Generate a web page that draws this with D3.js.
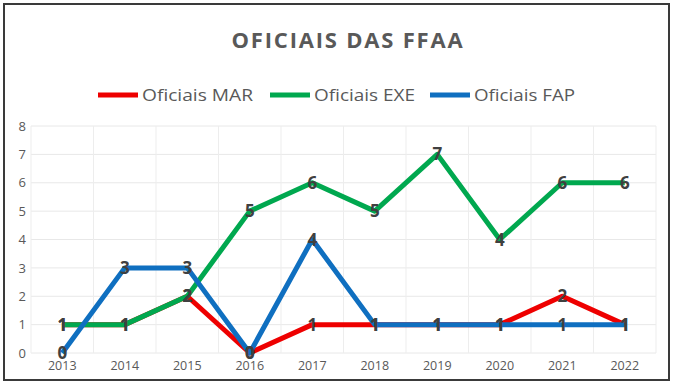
<!DOCTYPE html>
<html lang="pt-BR">
<head>
<meta charset="UTF-8">
<script src="https://d3js.org/d3.v7.min.js"></script>
<style>
  body { margin: 0; background: #fff; }
  svg { display: block; font-family: 'Open Sans', 'Liberation Sans', sans-serif; }
</style>
</head>
<body>
<div id="chart"></div>
<script>
// dados do grafico
const anos = ["2013", "2014", "2015", "2016", "2017", "2018", "2019", "2020", "2021", "2022"];
const oficiaisMAR = [1, 1, 2, 0, 1, 1, 1, 1, 2, 1];
const oficiaisEXE = [1, 1, 2, 5, 6, 5, 7, 4, 6, 6];
const oficiaisFAP = [0, 3, 3, 0, 4, 1, 1, 1, 1, 1];
const yTicks = [0, 1, 2, 3, 4, 5, 6, 7, 8];

const series = [
  { nome: "Oficiais MAR", valores: oficiaisMAR, cor: "#ee0000" },
  { nome: "Oficiais EXE", valores: oficiaisEXE, cor: "#00a84f" },
  { nome: "Oficiais FAP", valores: oficiaisFAP, cor: "#0f6fc0" }
];

const width = 674, height = 385;
const svg = d3.select("#chart").append("svg")
  .attr("width", width).attr("height", height);

// moldura
svg.append("rect")
  .attr("x", 4).attr("y", 4).attr("width", 665).attr("height", 376)
  .attr("fill", "#fff").attr("stroke", "#3a3a3a").attr("stroke-width", 2);

const x = d3.scaleBand().domain(anos).range([31, 656]);
const y = d3.scaleLinear().domain([0, 8]).range([353, 126]);

// grade
svg.append("g").selectAll("line").data(yTicks).join("line")
  .attr("x1", 31).attr("x2", 656)
  .attr("y1", d => y(d)).attr("y2", d => y(d))
  .attr("stroke", "#e8e8e8").attr("stroke-width", 1);

svg.append("g").selectAll("line").data(anos.concat(["fim"])).join("line")
  .attr("x1", (d, i) => 31 + i * x.step()).attr("x2", (d, i) => 31 + i * x.step())
  .attr("y1", y(0)).attr("y2", y(8))
  .attr("stroke", "#ededed").attr("stroke-width", 1);

// eixos
const yAxis = svg.append("g").attr("transform", "translate(26,0)")
  .call(d3.axisLeft(y).tickValues(yTicks).tickSize(0).tickPadding(0));
yAxis.select(".domain").remove();
yAxis.selectAll("text").attr("fill", "#595959").attr("font-size", "13px")
  .attr("font-family", "'Open Sans', sans-serif");

const xAxis = svg.append("g").attr("transform", "translate(0," + y(0) + ")")
  .call(d3.axisBottom(x).tickSize(0).tickPadding(8));
xAxis.select(".domain").remove();
xAxis.selectAll("text").attr("fill", "#595959").attr("font-size", "12.5px")
  .attr("font-family", "'Open Sans', sans-serif");

// linhas
const line = d3.line()
  .x((d, i) => x(anos[i]) + x.bandwidth() / 2)
  .y(d => y(d));

series.forEach(s => {
  svg.append("path")
    .datum(s.valores)
    .attr("d", line)
    .attr("fill", "none")
    .attr("stroke", s.cor)
    .attr("stroke-width", 5)
    .attr("stroke-linejoin", "round");
});

// rotulos de dados
series.forEach(s => {
  svg.append("g").selectAll("text").data(s.valores).join("text")
    .attr("x", (d, i) => x(anos[i]) + x.bandwidth() / 2)
    .attr("y", d => y(d) + 6)
    .attr("text-anchor", "middle")
    .attr("font-size", "17px")
    .attr("font-weight", "bold")
    .attr("fill", "#404040")
    .text(d => d);
});

// titulo
svg.append("text")
  .attr("x", 348).attr("y", 48)
  .attr("text-anchor", "middle")
  .attr("font-size", "22px")
  .attr("font-weight", "bold")
  .attr("letter-spacing", "1.8px")
  .attr("fill", "#595959")
  .text("OFICIAIS DAS FFAA");

// legenda
const legX = [98, 270, 430];
series.forEach((s, i) => {
  const g = svg.append("g").attr("transform", "translate(" + legX[i] + ",95)");
  g.append("line").attr("x1", 0).attr("x2", 40).attr("y1", 0).attr("y2", 0)
    .attr("stroke", s.cor).attr("stroke-width", 5);
  g.append("text").attr("x", 44).attr("y", 5.5)
    .attr("font-size", "16px").attr("fill", "#595959")
    .attr("textLength", i === 0 ? 111 : 101)
    .attr("lengthAdjust", "spacingAndGlyphs")
    .text(s.nome);
});
</script>
</body>
</html>
